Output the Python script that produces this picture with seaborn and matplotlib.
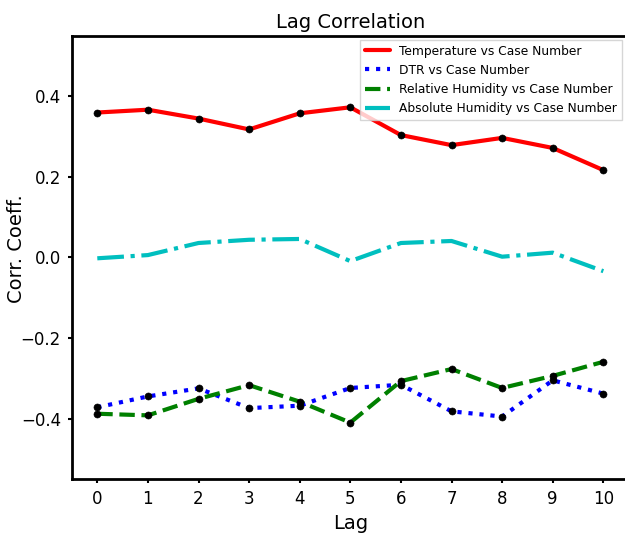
import matplotlib
matplotlib.use("Agg")
import matplotlib.pyplot as plt
import seaborn as sns
import pandas as pd

lags = [0, 1, 2, 3, 4, 5, 6, 7, 8, 9, 10]
temperature = [0.360, 0.367, 0.345, 0.318, 0.358, 0.373, 0.304, 0.279, 0.297, 0.272, 0.217]
dtr = [-0.372, -0.345, -0.325, -0.374, -0.368, -0.324, -0.316, -0.382, -0.395, -0.305, -0.338]
rel_humidity = [-0.388, -0.392, -0.351, -0.317, -0.358, -0.410, -0.307, -0.277, -0.324, -0.294, -0.259]
abs_humidity = [-0.002, 0.006, 0.036, 0.044, 0.046, -0.009, 0.036, 0.041, 0.002, 0.012, -0.034]

labels = ["Temperature vs Case Number", "DTR vs Case Number",
          "Relative Humidity vs Case Number", "Absolute Humidity vs Case Number"]
series = [temperature, dtr, rel_humidity, abs_humidity]
colors = ["#ff0000", "#0000ff", "#008000", "#00bfbf"]
styles = ["-", ":", "--", "-."]
show_markers = [True, True, True, False]

sns.set_style("white", {"text.color": "black", "axes.labelcolor": "black",
                        "xtick.color": "black", "ytick.color": "black"})
plt.rcParams['font.family'] = ['DejaVu Sans']

fig = plt.figure(figsize=(6.25, 5.35), dpi=100)
ax = fig.add_axes([0.1152, 0.1047, 0.8906, 0.828])

for lab, vals, c, ls, mk in zip(labels, series, colors, styles, show_markers):
    df = pd.DataFrame({"Lag": lags, "val": vals})
    sns.lineplot(data=df, x="Lag", y="val", ax=ax, color=c, linestyle=ls,
                 linewidth=3.0, label=lab)
    if mk:
        sns.scatterplot(data=df, x="Lag", y="val", ax=ax, color="black",
                        s=26, edgecolor="black", zorder=5, legend=False)

ax.set_xlim(-0.5, 10.5)
ax.set_ylim(-0.55, 0.55)
ax.set_xticks(lags)
ax.set_yticks([-0.4, -0.2, 0.0, 0.2, 0.4])
ax.set_yticklabels(["\u22120.4", "\u22120.2", "0.0", "0.2", "0.4"])
ax.tick_params(axis="both", labelsize=12, direction="out", length=3, width=1.5,
               left=True, bottom=True, color="black", labelcolor="black", pad=5)
for sp in ax.spines.values():
    sp.set_linewidth(2)
    sp.set_color("black")
ax.spines["right"].set_visible(False)
ax.set_xlabel("Lag", fontsize=14, color="black")
ax.set_ylabel("Corr. Coeff.", fontsize=14, color="black")
ax.yaxis.set_label_coords(-0.082, 0.52)
ax.set_title("Lag Correlation", fontsize=14, pad=6, color="black")
leg = ax.legend(loc="upper right", fontsize=8.8, frameon=True, fancybox=False,
                bbox_to_anchor=(0.995, 1.0), borderaxespad=0.3, handlelength=2.0)
leg.get_frame().set_edgecolor("#cccccc")
leg.get_frame().set_linewidth(1)
for t in leg.get_texts():
    t.set_color("black")

fig.savefig("out.png", dpi=100)
